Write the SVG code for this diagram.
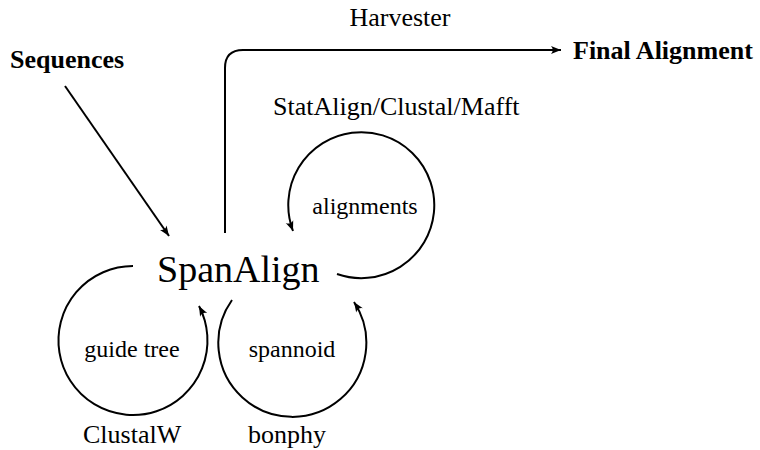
<svg xmlns="http://www.w3.org/2000/svg" width="760" height="450" viewBox="0 0 760 450">
<style>
text{font-family:"Liberation Serif","Times New Roman",serif;fill:#000}
.lbl{font-size:26px}
.in{font-size:24px}
.b{font-size:26px;font-weight:bold}
.big{font-size:38px}
.c{fill:none;stroke:#000;stroke-width:2}
</style>
<defs>
<marker id="ah" markerUnits="userSpaceOnUse" markerWidth="12" markerHeight="10" viewBox="-11 -5 12 10" refX="0" refY="0" orient="auto">
<path d="M0,0 L-10,-4 Q-6.5,0 -10,4 Z" fill="#000"/>
</marker>
</defs>
<rect width="760" height="450" fill="#fff"/>
<g id="connectors">
<path class="c" d="M65,86 L169,236" marker-end="url(#ah)"/>
<path class="c" d="M225,233 L225,68 Q225,50 243,50 L561,50" marker-end="url(#ah)"/>
<path id="loop-guide" class="c" d="M133,266 A74.5,74.5 0 1 0 199,306" marker-end="url(#ah)"/>
<path id="loop-spannoid" class="c" d="M232,300 A74,74 0 1 0 354,302" marker-end="url(#ah)"/>
<path id="loop-align" class="c" d="M337,274 A73,73 0 1 0 293,231" marker-end="url(#ah)"/>
</g>
<g id="sequences"><text class="b" x="10" y="68">Sequences</text></g>
<g id="final"><text class="b" x="573" y="59">Final Alignment</text></g>
<g id="harvester"><text class="lbl" x="400" y="26" text-anchor="middle">Harvester</text></g>
<g id="spanalign"><text class="big" x="157" y="282">SpanAlign</text></g>
<g id="statalign"><text class="lbl" x="273" y="115">StatAlign/Clustal/Mafft</text></g>
<g id="alignments"><text class="in" x="365" y="214" text-anchor="middle">alignments</text></g>
<g id="guidetree"><text class="in" x="132" y="357" text-anchor="middle">guide tree</text></g>
<g id="spannoid"><text class="in" x="292" y="357" text-anchor="middle">spannoid</text></g>
<g id="clustalw"><text class="lbl" x="83" y="443">ClustalW</text></g>
<g id="bonphy"><text class="lbl" x="248" y="443">bonphy</text></g>
</svg>
